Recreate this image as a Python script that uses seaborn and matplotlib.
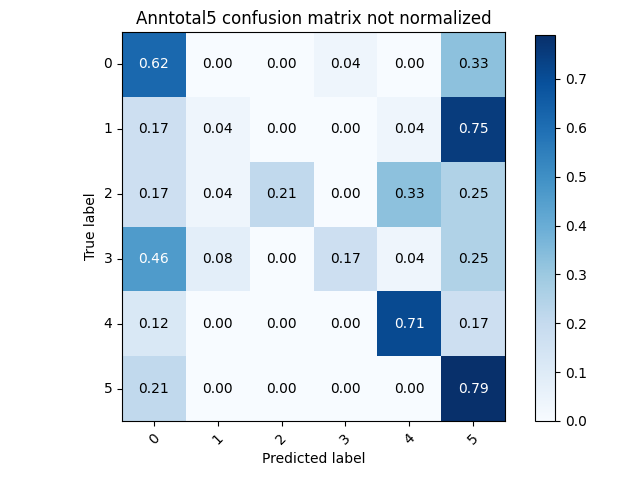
import numpy as np
import matplotlib
matplotlib.use('Agg')
import matplotlib.pyplot as plt
import seaborn as sns

labels = ['0', '1', '2', '3', '4', '5']
row0 = [0.62, 0.00, 0.00, 0.04, 0.00, 0.33]
row1 = [0.17, 0.04, 0.00, 0.00, 0.04, 0.75]
row2 = [0.17, 0.04, 0.21, 0.00, 0.33, 0.25]
row3 = [0.46, 0.08, 0.00, 0.17, 0.04, 0.25]
row4 = [0.12, 0.00, 0.00, 0.00, 0.71, 0.17]
row5 = [0.21, 0.00, 0.00, 0.00, 0.00, 0.79]
cm = np.array([row0, row1, row2, row3, row4, row5])

fig = plt.figure(figsize=(6.4, 4.8), dpi=100)
ax = fig.add_axes([122/640, 1 - 421/480, 383/640, 389/480])
cax = fig.add_axes([535/640, 1 - 421/480, 20/640, 386/480])

sns.heatmap(cm, ax=ax, cbar_ax=cax, cmap='Blues', annot=True, fmt='.2f',
            xticklabels=labels, yticklabels=labels, vmin=0,
            annot_kws={'fontsize': 10})

thresh = cm.max() / 2
for t, v in zip(ax.texts, cm.flatten()):
    t.set_color('white' if v > thresh else 'black')

for s in ax.spines.values():
    s.set_visible(True)
    s.set_linewidth(0.8)
cbar = ax.collections[0].colorbar
cbar.outline.set_visible(True)
cbar.outline.set_linewidth(0.8)
cbar.set_ticks([0, 0.1, 0.2, 0.3, 0.4, 0.5, 0.6, 0.7])

ax.tick_params(length=3.5)
plt.setp(ax.get_xticklabels(), rotation=45)
plt.setp(ax.get_yticklabels(), rotation=0)
ax.set_title('Anntotal5 confusion matrix not normalized')
ax.set_xlabel('Predicted label')
ax.set_ylabel('True label')

fig.savefig('out.png')
